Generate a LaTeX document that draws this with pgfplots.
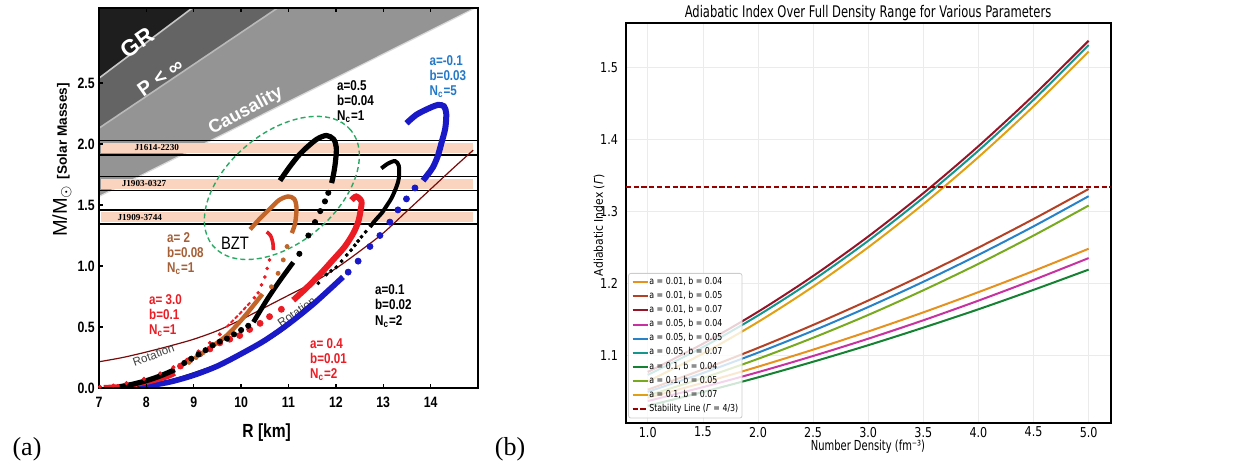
\documentclass[border=0pt]{standalone}
\usepackage{fontspec}
\usepackage{pgfplots}
\pgfplotsset{compat=1.18}
\setmainfont{Liberation Sans}
\newfontfamily\LSc{Liberation Sans}[FakeStretch=0.82]
\newfontfamily\LS{Liberation Sans}
\newfontfamily\LSerif{Liberation Serif}
\newfontfamily\DVc{DejaVu Sans}[FakeStretch=0.82]
\newfontfamily\DVt{DejaVu Sans}[FakeStretch=0.72]
\newfontfamily\DVr{DejaVu Sans}[FakeStretch=0.9]
\definecolor{blueA}{RGB}{25,25,200}
\definecolor{blueT}{RGB}{35,120,200}
\definecolor{redA}{RGB}{235,28,36}
\definecolor{brownA}{RGB}{195,100,40}
\definecolor{brownT}{RGB}{165,95,55}
\definecolor{rotc}{RGB}{120,10,10}
\definecolor{ellc}{RGB}{40,170,100}
\definecolor{peach}{RGB}{250,212,190}
\definecolor{grc}{RGB}{30,30,30}
\definecolor{pinf}{RGB}{100,100,100}
\definecolor{caus}{RGB}{148,148,148}
\definecolor{c1}{RGB}{230,145,30}
\definecolor{c2}{RGB}{180,65,35}
\definecolor{c3}{RGB}{150,20,40}
\definecolor{c4}{RGB}{200,50,160}
\definecolor{c5}{RGB}{40,130,200}
\definecolor{c6}{RGB}{20,150,140}
\definecolor{c7}{RGB}{20,130,50}
\definecolor{c8}{RGB}{120,170,30}
\definecolor{c9}{RGB}{225,160,20}
\definecolor{stab}{RGB}{150,0,0}
\begin{document}
\begin{tikzpicture}
\useasboundingbox (0,0) rectangle (618pt,233pt);
% ---------------- panel (a) ----------------
\begin{axis}[
  at={(49.5pt,39pt)}, anchor=south west, scale only axis,
  width=189.5pt, height=190pt,
  xmin=7, xmax=15, ymin=0, ymax=3.115,
  axis on top,
  axis line style={line width=1.2pt},
  xtick={7,8,...,14}, ytick={0,0.5,1,1.5,2,2.5},
  yticklabel style={/pgf/number format/fixed, /pgf/number format/fixed zerofill, /pgf/number format/precision=1},
  /pgf/number format/assume math mode=true,
  tick align=inside, major tick length=2pt, tick style={line width=0.7pt,black},
  xtick pos=both, ytick pos=left,
  tick label style={font=\LSc\bfseries\fontsize{7.5}{8}\selectfont, inner sep=0pt},
  xticklabel style={anchor=center, yshift=-7pt},
  yticklabel style={anchor=east, xshift=-2pt},
  xlabel={R [km]},
  xlabel style={at={(axis description cs:0.4425,-0.1184)}, anchor=center, font=\LSc\bfseries\fontsize{9.5}{10}\selectfont},
  ylabel={\fontsize{10}{10}\selectfont M/M$_\odot$ \fontsize{6.8}{7}\selectfont\bfseries[Solar Masses]},
  ylabel style={at={(axis description cs:-0.0976,0.60)}, anchor=center, font=\LS},
  clip=true,
]
% shaded regions
\addplot[draw=none, fill=caus] coordinates {(7,1.57) (14.94,3.115) (7,3.115)} -- cycle;
\addplot[draw=none, fill=pinf] coordinates {(7,2.13) (10.77,3.115) (7,3.115)} -- cycle;
\addplot[draw=none, fill=grc] coordinates {(7,2.54) (8.97,3.115) (7,3.115)} -- cycle;
\addplot[gray!55, line width=0.8pt] coordinates {(7,2.13) (10.77,3.115)};
\addplot[gray!45, line width=0.8pt] coordinates {(7,2.54) (8.97,3.115)};
\addplot[gray!30, line width=0.6pt] coordinates {(7,1.57) (14.94,3.115)};
% pulsar bands
\addplot[draw=none, fill=peach] coordinates {(7.05,1.93) (14.9,1.93) (14.9,2.012) (7.05,2.012)} -- cycle;
\addplot[draw=none, fill=peach] coordinates {(7.05,1.635) (14.9,1.635) (14.9,1.715) (7.05,1.715)} -- cycle;
\addplot[draw=none, fill=peach] coordinates {(7.05,1.36) (14.9,1.36) (14.9,1.442) (7.05,1.442)} -- cycle;
\addplot[black, line width=0.6pt] coordinates {(7,2.027) (15,2.027)};
\addplot[black, line width=0.6pt] coordinates {(7,1.91) (15,1.91)};
\addplot[black, line width=0.6pt] coordinates {(7,1.732) (15,1.732)};
\addplot[black, line width=0.6pt] coordinates {(7,1.617) (15,1.617)};
\addplot[black, line width=0.6pt] coordinates {(7,1.459) (15,1.459)};
\addplot[black, line width=0.6pt] coordinates {(7,1.344) (15,1.344)};
% rotation curve
\addplot[rotc, line width=0.6pt, smooth] coordinates {(7,0.215) (7.5,0.25) (8,0.295) (8.5,0.345) (9,0.40) (9.5,0.47) (10,0.56) (10.5,0.66) (11,0.76) (11.5,0.86) (12,0.98) (12.5,1.12) (13,1.27) (13.5,1.45) (14,1.63) (14.5,1.81) (14.9,1.95)};
\node[rotate=35, text=black!75, font=\LS\fontsize{5.8}{6}\selectfont] at (axis cs:11.17,0.625) {Rotation};
% black curve a=0.1 lower
\addplot[black, line width=1.2pt, smooth] coordinates {(11.5,0.70) (11.2,0.60) (10.96,0.50) (10.5,0.38) (10.0,0.28) (9.5,0.19) (9.0,0.12) (8.5,0.06) (8.0,0.02) (7.8,0.005)};
% blue curve a=-0.1
\addplot[blueA, line width=3pt, smooth] coordinates {(13.49,2.17) (13.7,2.24) (13.95,2.29) (14.15,2.32) (14.28,2.31) (14.33,2.25) (14.31,2.13) (14.23,2.01) (14.15,1.90) (14.05,1.81) (13.94,1.75) (13.84,1.70)};
\addplot[only marks, mark=*, mark size=1.5pt, blueA, mark options={draw=none}] coordinates {(13.67,1.64) (13.49,1.55) (13.31,1.46) (13.14,1.36) (12.93,1.25) (12.72,1.16) (12.47,1.04) (12.26,0.95)};
\addplot[blueA, line width=2.8pt, smooth] coordinates {(12.15,0.91) (11.9,0.82) (11.5,0.68) (11.0,0.525) (10.5,0.39) (10.0,0.28) (9.5,0.18) (9.0,0.105) (8.5,0.05) (8.0,0.015) (7.85,0.005)};
% black curve a=0.1 upper
\addplot[black, line width=2pt, smooth] coordinates {(12.96,1.80) (13.1,1.84) (13.25,1.86) (13.33,1.82) (13.33,1.72) (13.28,1.65) (13.18,1.56) (13.1,1.51) (12.98,1.44) (12.89,1.40) (12.8,1.36) (12.72,1.32)};
\addplot[only marks, mark=*, mark size=0.8pt, black, mark options={draw=none}] coordinates {(12.63,1.28) (12.54,1.24) (12.47,1.205) (12.4,1.17) (12.32,1.13) (12.23,1.09) (12.12,1.04) (12.01,0.99) (11.9,0.96) (11.8,0.93) (11.63,0.86)};
% red curve a=0.4
\addplot[redA, line width=3pt, smooth] coordinates {(12.33,1.54) (12.43,1.57) (12.54,1.53) (12.52,1.45) (12.47,1.36) (12.37,1.27) (12.19,1.16) (11.94,1.05) (11.66,0.93) (11.38,0.82) (11.1,0.72)};
\addplot[only marks, mark=*, mark size=1.5pt, redA, mark options={draw=none}] coordinates {(10.85,0.645) (10.6,0.585) (10.4,0.53) (10.18,0.48) (9.97,0.43) (9.76,0.40) (9.55,0.37) (9.34,0.32) (9.13,0.28) (8.92,0.23) (8.72,0.18)};
\addplot[redA, line width=2.4pt, smooth] coordinates {(8.6,0.12) (8.43,0.09) (8.0,0.045) (7.5,0.015) (7.1,0.005)};
% red curve a=3.0
\addplot[redA, line width=1.8pt, smooth] coordinates {(10.54,1.28) (10.62,1.25) (10.67,1.19) (10.68,1.13)};
\addplot[only marks, mark=*, mark size=0.7pt, redA, mark options={draw=none}] coordinates {(10.6,1.05) (10.55,0.98) (10.5,0.91) (10.43,0.845) (10.36,0.78) (10.28,0.74)};
\addplot[redA, line width=1pt, dash pattern=on 2pt off 1pt] coordinates {(10.19,0.70) (9.95,0.60) (9.69,0.50)};
\addplot[only marks, mark=*, mark size=0.8pt, redA, mark options={draw=none}] coordinates {(9.55,0.44) (9.34,0.37) (9.1,0.30) (8.85,0.23) (8.57,0.17) (8.29,0.12) (7.95,0.075) (7.58,0.04) (7.3,0.02) (7.02,0.01)};
% brown curve a=2
\addplot[brownA, line width=2.2pt, smooth] coordinates {(10.19,1.30) (10.4,1.39) (10.61,1.47) (10.8,1.54) (10.99,1.57) (11.12,1.55) (11.17,1.48) (11.14,1.35) (11.07,1.27)};
\addplot[only marks, mark=*, mark size=1pt, brownA, mark options={draw=none}] coordinates {(10.97,1.16) (10.89,1.05) (10.78,0.94) (10.64,0.83)};
\addplot[brownA, line width=2.2pt, smooth] coordinates {(10.45,0.77) (10.1,0.60) (9.8,0.47) (9.6,0.40) (9.34,0.33)};
\addplot[only marks, mark=*, mark size=1pt, brownA, mark options={draw=none}] coordinates {(9.2,0.29) (9.05,0.25) (8.9,0.21)};
% black curve a=0.5
\addplot[black, line width=2.6pt, smooth] coordinates {(10.82,1.70) (11.0,1.80) (11.2,1.90) (11.38,1.97) (11.6,2.04) (11.8,2.07) (11.95,2.04) (12.01,1.97) (11.99,1.85) (11.95,1.75) (11.91,1.68)};
\addplot[only marks, mark=*, mark size=1.3pt, black, mark options={draw=none}] coordinates {(11.84,1.60) (11.77,1.53) (11.67,1.45) (11.56,1.36) (11.42,1.25) (11.23,1.10)};
\addplot[black, line width=2.4pt, smooth] coordinates {(11.1,1.03) (10.8,0.87) (10.54,0.72) (10.26,0.54)};
\addplot[only marks, mark=*, mark size=1.3pt, black, mark options={draw=none}] coordinates {(10.15,0.51) (10.0,0.475) (9.85,0.44) (9.7,0.405) (9.55,0.38) (9.4,0.35) (9.25,0.31) (9.1,0.275) (8.95,0.24) (8.8,0.205)};
\addplot[black, line width=2.6pt, smooth] coordinates {(8.6,0.15) (8.3,0.10) (8.0,0.06) (7.7,0.03) (7.44,0.01)};
% ellipse (BZT)
\draw[ellc, line width=0.7pt, dash pattern=on 2.5pt off 1.6pt, rotate around={40:(axis cs:10.86,1.64)}] (axis cs:10.86,1.64) ellipse [x radius=45pt, y radius=27.5pt];
% texts
\node[rotate=35, text=white, font=\LS\bfseries\fontsize{11.5}{12}\selectfont] at (axis cs:7.81,2.83) {GR};
\node[rotate=35, text=white, font=\LS\bfseries\fontsize{10}{10}\selectfont] at (axis cs:8.29,2.55) {P < ∞};
\node[rotate=28, text=white, font=\LS\bfseries\fontsize{9.1}{10}\selectfont] at (axis cs:10.10,2.27) {Causality};
\node[rotate=20, text=black!75, font=\LS\fontsize{5.8}{6}\selectfont] at (axis cs:8.15,0.27) {Rotation};
\node[font=\LSerif\bfseries\fontsize{4.6}{5}\selectfont] at (axis cs:8.22,1.972) {J1614-2230};
\node[font=\LSerif\bfseries\fontsize{4.6}{5}\selectfont] at (axis cs:7.95,1.674) {J1903-0327};
\node[font=\LSerif\bfseries\fontsize{4.6}{5}\selectfont] at (axis cs:7.86,1.40) {J1909-3744};
\node[font=\LSc\fontsize{9}{9}\selectfont] at (axis cs:9.87,1.19) {BZT};
\node[anchor=north west, inner sep=0pt, align=left, text=black, font=\LSc\bfseries\fontsize{7.1}{7.65}\selectfont] at (axis cs:12.02,2.525) {a=0.5\\b=0.04\\N\textsubscript{c}=1};
\node[anchor=north west, inner sep=0pt, align=left, text=blueT, font=\LSc\bfseries\fontsize{7.1}{7.65}\selectfont] at (axis cs:13.97,2.73) {a=-0.1\\b=0.03\\N\textsubscript{c}=5};
\node[anchor=north west, inner sep=0pt, align=left, text=brownT, font=\LSc\bfseries\fontsize{7.1}{7.65}\selectfont] at (axis cs:8.43,1.28) {a= 2\\b=0.08\\N\textsubscript{c}=1};
\node[anchor=north west, inner sep=0pt, align=left, text=redA, font=\LSc\bfseries\fontsize{7.1}{7.65}\selectfont] at (axis cs:8.05,0.77) {a= 3.0\\b=0.1\\N\textsubscript{c}=1};
\node[anchor=north west, inner sep=0pt, align=left, text=black, font=\LSc\bfseries\fontsize{7.1}{7.65}\selectfont] at (axis cs:12.82,0.85) {a=0.1\\b=0.02\\N\textsubscript{c}=2};
\node[anchor=north west, inner sep=0pt, align=left, text=redA, font=\LSc\bfseries\fontsize{7.1}{7.65}\selectfont] at (axis cs:11.45,0.41) {a= 0.4\\b=0.01\\N\textsubscript{c}=2};
\end{axis}
% ---------------- panel (b) ----------------
\begin{axis}[
  at={(312.85pt,21.35pt)}, anchor=south west, scale only axis,
  width=242.5pt, height=200.3pt,
  xmin=0.8, xmax=5.2, ymin=1.0055, ymax=1.562,
  xtick={1,1.5,...,5}, ytick={1.1,1.2,1.3,1.4,1.5},
  xticklabel style={/pgf/number format/fixed, /pgf/number format/fixed zerofill, /pgf/number format/precision=1},
  yticklabel style={/pgf/number format/fixed, /pgf/number format/fixed zerofill, /pgf/number format/precision=1},
  /pgf/number format/assume math mode=true,
  grid=major, grid style={black!8, line width=0.3pt},
  axis line style={line width=1pt},
  major tick length=0pt,
  tick label style={font=\DVc\fontsize{6.8}{7}\selectfont, inner sep=0pt},
  xticklabel style={anchor=center, yshift=-4.4pt},
  yticklabel style={anchor=east, xshift=-3.7pt},
  legend style={at={(axis description cs:0.005,0.012)}, anchor=south west, draw=black!20, rounded corners=1.2pt, fill=white, fill opacity=0.8, text opacity=1, draw opacity=1, font=\DVc\fontsize{4.8}{5}\selectfont, inner sep=1.5pt, row sep=1.1pt, nodes={inner sep=0.4pt}},
  legend cell align=left,
  legend image code/.code={\draw[#1] (0pt,0pt) -- (7.5pt,0pt);},
]
\addplot[c1, line width=1pt, smooth] coordinates {(1,1.041) (1.5,1.0617) (2,1.0841) (2.5,1.1078) (3,1.133) (3.5,1.1596) (4,1.1877) (4.5,1.2171) (5,1.248)};
\addlegendentry{a = 0.01, b = 0.04}
\addplot[c2, line width=1pt, smooth] coordinates {(1,1.0522) (1.5,1.0803) (2,1.1102) (2.5,1.1421) (3,1.176) (3.5,1.2118) (4,1.2496) (4.5,1.2893) (5,1.331)};
\addlegendentry{a = 0.01, b = 0.05}
\addplot[c3, line width=1pt, smooth] coordinates {(1,1.0768) (1.5,1.1160) (2,1.1604) (2.5,1.2101) (3,1.265) (3.5,1.3251) (4,1.3905) (4.5,1.4612) (5,1.537)};
\addlegendentry{a = 0.01, b = 0.07}
\addplot[c4, line width=1pt, smooth] coordinates {(1,1.0364) (1.5,1.0557) (2,1.0765) (2.5,1.099) (3,1.123) (3.5,1.1486) (4,1.1759) (4.5,1.2047) (5,1.235)};
\addlegendentry{a = 0.05, b = 0.04}
\addplot[c5, line width=1pt, smooth] coordinates {(1,1.0492) (1.5,1.0753) (2,1.1036) (2.5,1.1341) (3,1.167) (3.5,1.2021) (4,1.2395) (4.5,1.2791) (5,1.321)};
\addlegendentry{a = 0.05, b = 0.05}
\addplot[c6, line width=1pt, smooth] coordinates {(1,1.0728) (1.5,1.1113) (2,1.1552) (2.5,1.2044) (3,1.259) (3.5,1.3190) (4,1.3843) (4.5,1.4549) (5,1.531)};
\addlegendentry{a = 0.05, b = 0.07}
\addplot[c7, line width=1pt, smooth] coordinates {(1,1.0298) (1.5,1.0489) (2,1.0693) (2.5,1.091) (3,1.114) (3.5,1.1384) (4,1.1639) (4.5,1.1909) (5,1.219)};
\addlegendentry{a = 0.1, b = 0.04}
\addplot[c8, line width=1pt, smooth] coordinates {(1,1.044) (1.5,1.0683) (2,1.095) (2.5,1.1243) (3,1.156) (3.5,1.1903) (4,1.227) (4.5,1.2663) (5,1.308)};
\addlegendentry{a = 0.1, b = 0.05}
\addplot[c9, line width=1pt, smooth] coordinates {(1,1.0638) (1.5,1.1023) (2,1.1462) (2.5,1.1954) (3,1.250) (3.5,1.3100) (4,1.3753) (4.5,1.4459) (5,1.522)};
\addlegendentry{a = 0.1, b = 0.07}
\addplot[stab, line width=1pt, dash pattern=on 2.6pt off 1.3pt] coordinates {(0.8,1.3333) (5.2,1.3333)};
\addlegendentry{Stability Line (\textit{Γ} = 4/3)}
\end{axis}
% panel (b) title and axis labels
\node[font=\DVt\fontsize{8}{9}\selectfont, inner sep=0pt] at (434pt,226.5pt) {Adiabatic Index Over Full Density Range for Various Parameters};
\node[font=\DVt\fontsize{6.9}{8}\selectfont, inner sep=0pt] at (434pt,9.5pt) {Number Density (fm⁻³)};
\node[font=\DVr\fontsize{6}{7}\selectfont, inner sep=0pt, rotate=90] at (299.5pt,120.5pt) {Adiabatic Index (\textit{Γ})};
% panel tags
\node[font=\LSerif\fontsize{13}{13}\selectfont] at (13.5pt,8.5pt) {(a)};
\node[font=\LSerif\fontsize{13}{13}\selectfont] at (255pt,8.5pt) {(b)};
\end{tikzpicture}
\end{document}
